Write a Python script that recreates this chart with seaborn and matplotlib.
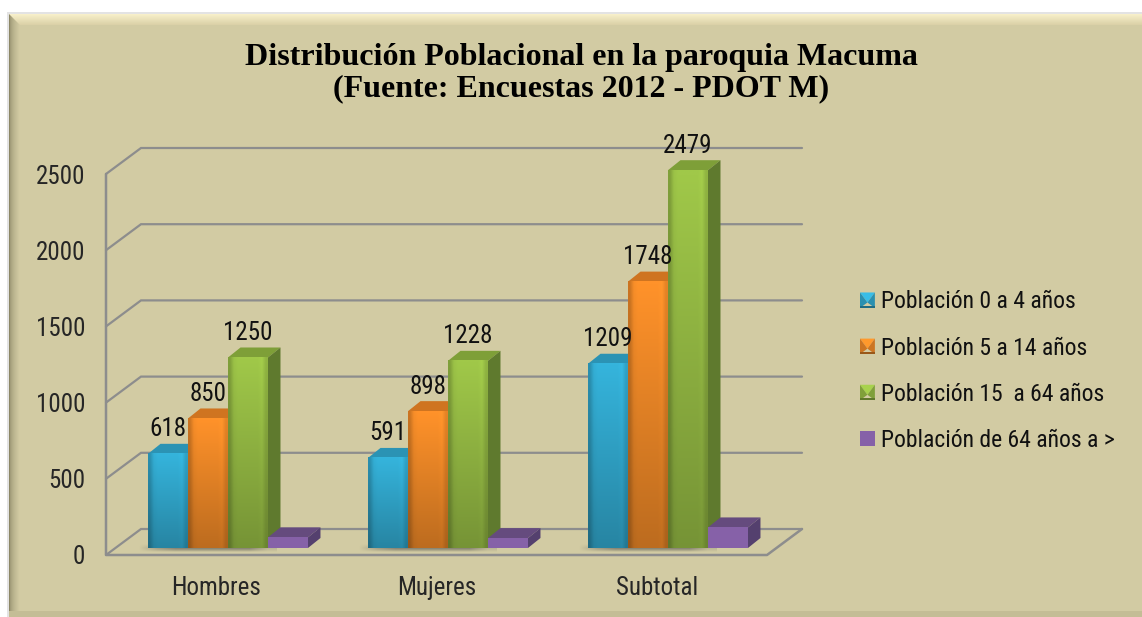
import numpy as np
import pandas as pd
import seaborn as sns
import matplotlib
matplotlib.use("Agg")
import matplotlib.pyplot as plt
from matplotlib.patches import Polygon, Rectangle
from matplotlib.legend_handler import HandlerPatch

# datos
grupos = ["Hombres", "Mujeres", "Subtotal"]
series = ["Población 0 a 4 años", "Población 5 a 14 años", "Población 15  a 64 años", "Población de 64 años a >"]
p_0_4 = [618, 591, 1209]
p_5_14 = [850, 898, 1748]
p_15_64 = [1250, 1228, 2479]
p_64 = [70, 65, 135]
colores = ["#35b4dc", "#ff922a", "#a0c849", "#8661a8"]
laterales = ["#2a8cab", "#c86c1e", "#5f7a2e", "#54406e"]
techos = ["#2b93b4", "#cf7420", "#7e9f38", "#654b7e"]

W, H = 1142, 617
FONDO = "#d2cba3"
GRIS = "#8d8d8d"
LETRA = 18

sns.set_theme(style="white")
plt.rcParams["font.family"] = ["Roboto Condensed", "Liberation Sans", "DejaVu Sans"]
plt.rcParams["text.color"] = "#111111"

df = pd.DataFrame({
    "grupo": grupos * 4,
    "serie": np.repeat(series, 3),
    "valor": p_0_4 + p_5_14 + p_15_64 + p_64,
})

fig = plt.figure(figsize=(W / 100, H / 100), dpi=100, facecolor="white")


def caja(x0, y_top, x1, y_bot):
    return [x0 / W, 1 - y_bot / H, (x1 - x0) / W, (y_bot - y_top) / H]


# marco con bisel
ax_bg = fig.add_axes([0, 0, 1, 1], zorder=0)
ax_bg.axis("off")
ax_bg.add_patch(Rectangle((7, 12), W, H, color="#c8c8c8", lw=0, alpha=0.5))
ax_bg.add_patch(Rectangle((9, 14), W, H, color=FONDO, lw=0))
franja = np.linspace(0, 1, 12)[:, None, None]
arriba = np.array([0.97, 0.94, 0.79]) * (1 - franja) + np.array([0.86, 0.82, 0.66]) * franja
im = ax_bg.imshow(arriba, extent=(9, W, 25, 14), aspect="auto", zorder=2)
im.set_clip_path(Polygon([(9, 14), (W, 14), (W, 25), (20, 25)], transform=ax_bg.transData))
franja_izq = np.linspace(0, 1, 11)[None, :, None] ** 0.5
izq = np.array([0.55, 0.53, 0.40]) * (1 - franja_izq) + np.array([0.824, 0.796, 0.639]) * franja_izq
ax_bg.imshow(izq, extent=(9, 20, H, 14), aspect="auto", zorder=1)
ax_bg.add_patch(Rectangle((9, 611), W, 6, color="#c4bd96", lw=0, zorder=1))
ax_bg.set_xlim(0, W)
ax_bg.set_ylim(H, 0)

# plano frontal con escala y rejilla en perspectiva
ax = fig.add_axes(caja(106, 174, 767, 555), zorder=1)
ax.patch.set_alpha(0)
ax.set_xlim(-0.5, 2.5)
ax.set_ylim(0, 2500)
prof_x = 35 / (661 / 3)
prof_y = 26 / (381 / 2500)
marcas = [0, 500, 1000, 1500, 2000, 2500]
for v in marcas:
    ax.plot([-0.5, -0.5 + prof_x, 2.5 + prof_x], [v, v + prof_y, v + prof_y],
            color=GRIS, lw=1.6, clip_on=False, solid_joinstyle="miter")
ax.plot([-0.5, -0.5, 2.5, 2.5 + prof_x], [2500, 0, 0, prof_y], color=GRIS, lw=1.8, clip_on=False)
sns.despine(ax=ax, left=True, bottom=True)
ax.set_xticks(range(3))
ax.set_xticklabels(grupos, fontsize=LETRA)
ax.set_yticks(marcas)
ax.set_yticklabels([str(v) for v in marcas], fontsize=LETRA)
ax.tick_params(axis="x", length=0, pad=15)
ax.tick_params(axis="y", length=0, pad=15)
ax.set_xlabel("")
ax.set_ylabel("")

# barras
ax2 = fig.add_axes(caja(118, 167, 778, 548), zorder=2)
ax2.patch.set_alpha(0)
sns.barplot(data=df, x="grupo", y="valor", hue="serie", palette=colores, width=0.727,
            gap=0, saturation=1, legend=False, ax=ax2)
ax2.axis("off")

dx = 12.5 / 220
dy = 10 / (381 / 2500)

# sombra en el suelo
for i in range(3):
    izq_b, der_b = ax2.containers[0][i], ax2.containers[2][i]
    x0 = izq_b.get_x() - 0.08
    x1 = der_b.get_x() + der_b.get_width() + 0.04
    sombra = np.zeros((5, 8, 4))
    sombra[..., :3] = 0.3
    sombra[..., 3] = np.array([0.0, 0.3, 0.6, 0.35, 0.0])[:, None] * np.array([0, 0.6, 1, 1, 1, 1, 1, 0.3])[None, :]
    ax2.imshow(sombra, extent=(x0, x1, -30, 30), aspect="auto", zorder=1.5,
               interpolation="bilinear", clip_on=False)

for k, cont in enumerate(ax2.containers):
    for bar in cont:
        x0, w, h = bar.get_x(), bar.get_width(), bar.get_height()
        x1 = x0 + w
        ax2.add_patch(Polygon([(x0, h), (x0 + dx, h + dy), (x1 + dx, h + dy), (x1, h)],
                              color=techos[k], lw=0, zorder=2, clip_on=False))
        ax2.add_patch(Polygon([(x1, 0), (x1 + dx, dy), (x1 + dx, h + dy), (x1, h)],
                              color=laterales[k], lw=0, zorder=2, clip_on=False))
        bar.set_linewidth(0)
        bar.set_zorder(3)
        if k < 3:
            # degradado vertical de la cara frontal
            vert = np.linspace(1.0, 0.74, 40)[:, None, None]
            horiz = np.array([0.8, 0.97, 1, 1, 1, 1, 1, 1, 1.03, 0.9])[None, :, None]
            cara = np.clip(np.array(matplotlib.colors.to_rgb(colores[k])) * vert * horiz, 0, 1)
            ax2.imshow(cara, extent=(x0, x1, 0, h), aspect="auto", zorder=3.1, interpolation="bilinear")
ax2.set_xlim(-0.5, 2.5)
ax2.set_ylim(0, 2500)

for k in range(3):
    ax2.bar_label(ax2.containers[k], labels=[str(v) for v in df["valor"][df["serie"] == series[k]]],
                  padding=9, fontsize=LETRA, zorder=6, color="#111111")


# cuadritos de la leyenda con bisel
class Bisel(HandlerPatch):
    def create_artists(self, legend, orig, xd, yd, width, height, fontsize, trans):
        col = np.array(orig.get_facecolor()[:3])
        a, b = -xd, -yd
        c, d = a + width, b + height
        if matplotlib.colors.to_hex(col) == colores[3]:
            return [Rectangle((a, b), width, height, color=col, lw=0, transform=trans)]
        m = (a + width / 2, b + height * 0.35)
        caras = [
            ([(a, d), (c, d), m], 1.05),
            ([(a, b), (a, d), m], 0.8),
            ([(c, b), (c, d), m], 0.8),
            ([(a, b), (c, b), (c, b + height * 0.15), (a, b + height * 0.15)], 0.6),
        ]
        return [Polygon(p, color=np.clip(col * f, 0, 1), lw=0, transform=trans) for p, f in caras]


muestras = [Rectangle((0, 0), 1, 1, facecolor=c) for c in colores]
leg = fig.legend(muestras, series, loc="upper left", bbox_to_anchor=(860 / W, 1 - 290.5 / H),
                 bbox_transform=fig.transFigure, frameon=False, fontsize=17,
                 handlelength=0.63, handleheight=0.63, handletextpad=0.25, labelspacing=0.98,
                 borderpad=0, borderaxespad=0, handler_map={Rectangle: Bisel()})

fig.text(581 / W, 1 - 73 / H, "Distribución Poblacional en la paroquia Macuma\n(Fuente: Encuestas 2012 - PDOT M)",
         ha="center", va="center", fontsize=23, fontweight="bold", linespacing=1.12,
         family=["Liberation Serif", "DejaVu Serif"], color="black")

fig.savefig("out.png", dpi=100)
